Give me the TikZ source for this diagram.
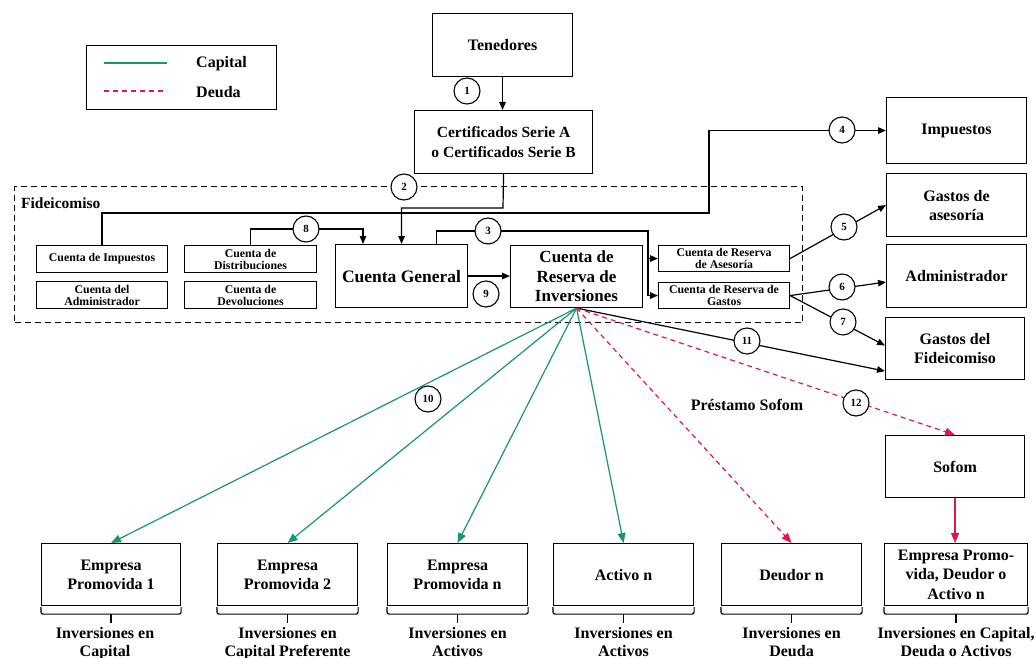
\documentclass[tikz,border=0pt]{standalone}
\usepackage{fontspec}
\setmainfont{Liberation Serif}
\usetikzlibrary{arrows.meta,calc}
\definecolor{capgreen}{RGB}{22,152,104}
\definecolor{debtred}{RGB}{226,22,72}
\tikzset{
  box/.style={draw, line width=1.1pt, align=center, inner sep=0pt, anchor=north west,
    font=\fontsize{16}{19}\selectfont\bfseries},
  sbox/.style={box, font=\fontsize{11.8}{12}\selectfont\bfseries},
  num/.style={circle, draw, line width=1.1pt, fill=white, minimum size=26pt, inner sep=0pt,
    font=\fontsize{11}{12}\selectfont\bfseries},
  ln/.style={line width=1.2pt},
  arr/.style={line width=1.2pt, -{Triangle[length=8pt,width=6.5pt]}},
  capline/.style={line width=1.2pt, capgreen, -{Triangle[length=10pt,width=8pt]}},
  debtline/.style={line width=1.2pt, debtred, dash pattern=on 5pt off 4pt, -{Triangle[length=10pt,width=8pt]}},
  lbl/.style={align=center, inner sep=0pt, anchor=north, font=\fontsize{16}{18}\selectfont\bfseries},
  txt/.style={inner sep=0pt, font=\fontsize{16}{18}\selectfont\bfseries}
}
\begin{document}
\begin{tikzpicture}[x=1pt,y=-1pt]
\useasboundingbox (0,0) rectangle (1036,658);

% legend
\node[draw, line width=1.1pt, minimum width=190pt, minimum height=64pt, anchor=north west, inner sep=0pt] (leg) at (86,45) {};
\draw[line width=1.4pt, capgreen] ($(leg.north west)+(18,18)$) -- ++(63,0);
\draw[line width=1.4pt, debtred, dash pattern=on 5pt off 4pt] ($(leg.north west)+(18,46)$) -- ++(63,0);
\node[txt, anchor=west] (legc) at (196,64) {Capital};
\node[txt, anchor=west] (legd) at (196,92) {Deuda};

% fideicomiso frame
\node[draw, line width=1.1pt, dash pattern=on 6pt off 4pt, minimum width=788pt, minimum height=136pt,
  anchor=north west, inner sep=0pt] (fid) at (14,186) {};
\node[txt, anchor=west, font=\fontsize{15.5}{17}\selectfont\bfseries] (fidl) at (21,203) {Fideicomiso};

% boxes
\node[box, minimum width=140pt, minimum height=63pt] (ten) at (432,13) {Tenedores};
\node[box, minimum width=178pt, minimum height=63pt, font=\fontsize{15.5}{20}\selectfont\bfseries] (cert) at (414,110) {Certificados Serie A\\o Certificados Serie B};
\node[sbox, minimum width=131pt, minimum height=27pt] (ci) at (36,245) {Cuenta de Impuestos};
\node[sbox, minimum width=131pt, minimum height=27pt] (cad) at (36,281) {Cuenta del\\Administrador};
\node[sbox, minimum width=132pt, minimum height=27pt] (cd) at (184,245) {Cuenta de\\Distribuciones};
\node[sbox, minimum width=132pt, minimum height=27pt] (cdev) at (184,281) {Cuenta de\\Devoluciones};
\node[box, minimum width=132pt, minimum height=63pt, font=\fontsize{17.5}{20}\selectfont\bfseries] (cg) at (335,244) {Cuenta General};
\node[box, minimum width=132pt, minimum height=62pt, font=\fontsize{17}{19.5}\selectfont\bfseries] (rdi) at (510,245) {Cuenta de\\Reserva de\\Inversiones};
\node[sbox, minimum width=131pt, minimum height=26pt] (asa) at (658,245) {Cuenta de Reserva\\de Asesoría};
\node[sbox, minimum width=131pt, minimum height=26pt] (gas) at (658,282) {Cuenta de Reserva de\\Gastos};
\node[box, minimum width=140pt, minimum height=66pt] (imp) at (886,97) {Impuestos};
\node[box, minimum width=140pt, minimum height=63pt] (gde) at (886,173) {Gastos de\\asesoría};
\node[box, minimum width=140pt, minimum height=63pt] (adm) at (886,244) {Administrador};
\node[box, minimum width=139pt, minimum height=62pt] (gdf) at (885,317) {Gastos del\\Fideicomiso};
\node[box, minimum width=139pt, minimum height=62pt] (sof) at (885,435) {Sofom};
\node[box, minimum width=139pt, minimum height=62pt] (ep1) at (41,543) {Empresa\\Promovida 1};
\node[box, minimum width=140pt, minimum height=62pt] (ep2) at (217,543) {Empresa\\Promovida 2};
\node[box, minimum width=140pt, minimum height=62pt] (epn) at (387,543) {Empresa\\Promovida n};
\node[box, minimum width=140pt, minimum height=62pt] (act) at (553,543) {Activo n};
\node[box, minimum width=140pt, minimum height=62pt] (deu) at (721,543) {Deudor n};
\node[box, minimum width=143pt, minimum height=62pt, font=\fontsize{16}{19.5}\selectfont\bfseries] (epd) at (884,543) {Empresa Promo-\\vida, Deudor o\\Activo n};

% brackets and labels below the bottom boxes
\foreach \n in {ep1,ep2,epn,act,deu,epd}{
  \draw[ln, rounded corners=2pt] ($(\n.south west)+(0,1)$) -- ++(0,7) -| ($(\n.south east)+(0,1)$);
  \draw[ln] ($(\n.south)+(0,8)$) -- ++(0,9);
}
\node[lbl] (l1) at ($(ep1.south)+(-6,21)$) {Inversiones en\\Capital};
\node[lbl] (l2) at ($(ep2.south)+(0,21)$) {Inversiones en\\Capital Preferente};
\node[lbl] (l3) at ($(epn.south)+(0,21)$) {Inversiones en\\Activos};
\node[lbl] (l4) at ($(act.south)+(0,21)$) {Inversiones en\\Activos};
\node[lbl] (l5) at ($(deu.south)+(0,21)$) {Inversiones en\\Deuda};
\node[lbl] (l6) at ($(epd.south)+(0,21)$) {Inversiones en Capital,\\Deuda o Activos};

% junction coordinates
\coordinate (j2) at (503,208);
\coordinate (j4) at (709,213);
\coordinate (j3) at (648,231);
\coordinate (j3b) at (j3 |- gas.west);
\coordinate (j8) at (363,229);
\coordinate (cgtop) at ($(cg.north east)+(-32,0)$);

% black connectors
\draw[arr] (ten.south) -- (ten.south |- cert.north);
\draw[arr] (cert.south) -- (j2) -| (cg.north);
\draw[arr] (ci.north) |- (j4) |- (imp.west);
\draw[arr] (cd.north) |- (j8) -- (j8 |- cg.north);
\draw[ln] (cgtop) |- (j3) -- (j3b);
\draw[arr] (j3 |- asa.west) -- (asa.west);
\draw[arr] (j3b) -- (gas.west);
\draw[arr] (cg.east) -- (cg.east -| rdi.west);
\draw[arr] (asa.east) -- (gde.west);
\draw[arr] (gas.east) -- ($(adm.west)+(0,6)$);
\draw[arr] (gas.east) -- ($(gdf.west)+(0,-3)$);
\draw[arr] (rdi.south) -- ($(gdf.south west)+(0,-9)$);

% capital / debt fan
\draw[capline] (rdi.south) -- (ep1.north);
\draw[capline] (rdi.south) -- (ep2.north);
\draw[capline] (rdi.south) -- (epn.north);
\draw[capline] (rdi.south) -- (act.north);
\draw[debtline] (rdi.south) -- (deu.north);
\draw[debtline] (rdi.south) -- (sof.north);
\draw[line width=1.4pt, debtred, -{Triangle[length=10pt,width=8pt]}] (sof.south) -- (sof.south |- epd.north);
\node[txt] (ps) at (747,405) {Préstamo Sofom};

% numbered circles
\node[num] (n1) at (467,91) {1};
\node[num] (n2) at (404,187) {2};
\node[num] (n3) at (488,231) {3};
\node[num] (n4) at (842,130) {4};
\node[num] (n5) at (844,227) {5};
\node[num] (n6) at (842,287) {6};
\node[num] (n7) at (843,322) {7};
\node[num] (n8) at (306,229) {8};
\node[num] (n9) at (486,294) {9};
\node[num] (n10) at (428,399) {10};
\node[num] (n11) at (747,341) {11};
\node[num] (n12) at (856,403) {12};
\end{tikzpicture}
\end{document}
